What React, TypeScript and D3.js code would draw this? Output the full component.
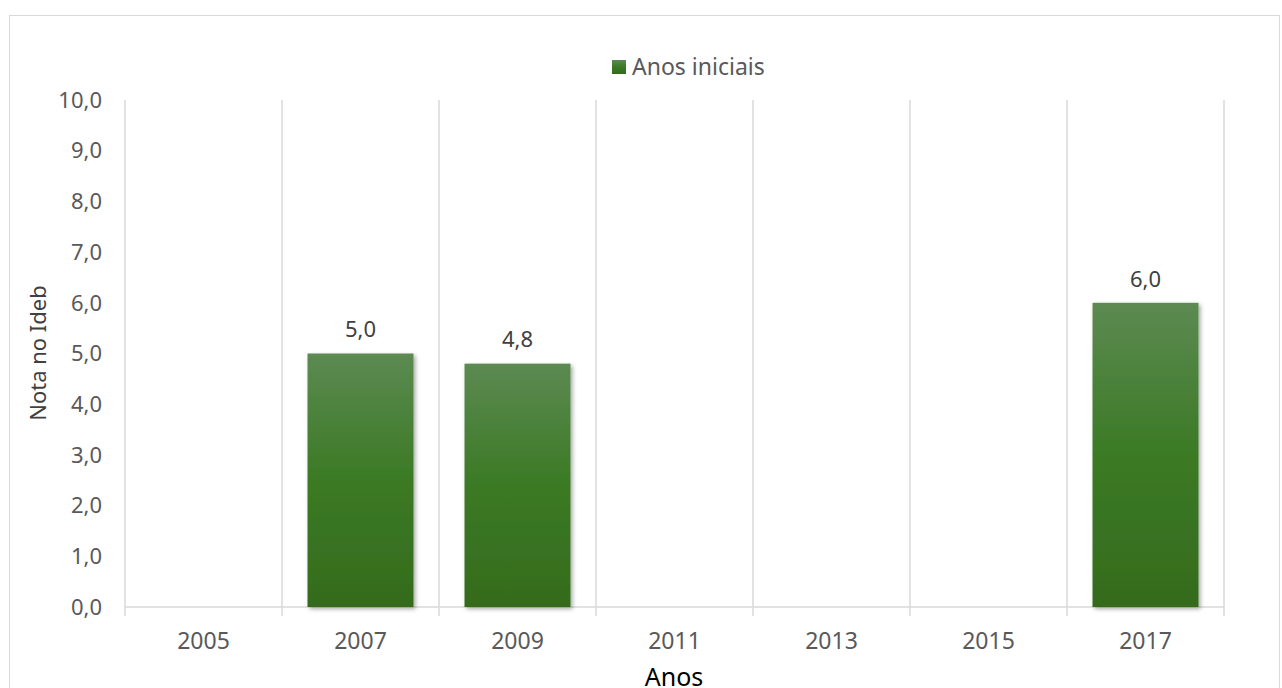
import React from "react";
import * as d3 from "d3";

const categories = ["2005", "2007", "2009", "2011", "2013", "2015", "2017"];
const values: (number | null)[] = [null, 5.0, 4.8, null, null, null, 6.0];
const yTicks = [0, 1, 2, 3, 4, 5, 6, 7, 8, 9, 10];
const seriesName = "Anos iniciais";

const W = 1282;
const H = 688;
const FONT = "'Noto Sans', 'Open Sans', sans-serif";

export default function App() {
  const x = d3.scaleBand<string>().domain(categories).range([125, 1224]).paddingInner(0).paddingOuter(0);
  const y = d3.scaleLinear().domain([0, 10]).range([607, 100]);
  const bw = x.bandwidth();
  const barW = bw * 0.675;
  const fmt = (v: number) => d3.format(".1f")(v).replace(".", ",");
  const bounds = categories.map((c) => x(c)!).concat([x.range()[1]]);

  return (
    <svg width={W} height={H} style={{ position: "absolute", left: 0, top: 0 }}>
      <defs>
        <linearGradient id="g" x1="0" y1="0" x2="0" y2="1">
          <stop offset="0" stopColor="#5c8a52" />
          <stop offset="0.5" stopColor="#3b7a24" />
          <stop offset="1" stopColor="#356b1d" />
        </linearGradient>
        <filter id="sh" x="-10%" y="-10%" width="130%" height="130%">
          <feDropShadow dx="2" dy="2" stdDeviation="2" floodColor="#000" floodOpacity="0.35" />
        </filter>
      </defs>
      <rect x={0} y={0} width={W} height={H} fill="#fff" />
      <rect x={9.5} y={15.5} width={1270} height={700} fill="none" stroke="#d9d9d9" strokeWidth={1} />

      {/* vertical gridlines */}
      {bounds.map((b, i) => (
        <line key={"g" + i} x1={b} x2={b} y1={y(10)} y2={616} stroke="#d9d9d9" strokeWidth={1.5} />
      ))}
      {/* x axis */}
      <line x1={x.range()[0]} x2={x.range()[1]} y1={y(0)} y2={y(0)} stroke="#d9d9d9" strokeWidth={1.5} />

      {/* y tick labels */}
      {yTicks.map((t) => (
        <text key={"y" + t} x={102} y={y(t)} dy="0.35em" textAnchor="end" fontFamily={FONT} fontSize={22} fill="#595959">
          {fmt(t)}
        </text>
      ))}

      {/* x tick labels */}
      {categories.map((c) => (
        <text key={"x" + c} x={x(c)! + bw / 2} y={641} dy="0.35em" textAnchor="middle" fontFamily={FONT} fontSize={23} fill="#595959">
          {c}
        </text>
      ))}

      {/* bars */}
      {categories.map((c, i) => {
        const v = values[i];
        if (v == null) return null;
        const bx = x(c)! + (bw - barW) / 2;
        return (
          <g key={"b" + c}>
            <rect x={bx} y={y(v)} width={barW} height={y(0) - y(v)} fill="url(#g)" filter="url(#sh)" />
            <text x={bx + barW / 2} y={y(v) - 24} dy="0.35em" textAnchor="middle" fontFamily={FONT} fontSize={22} fill="#404040">
              {fmt(v)}
            </text>
          </g>
        );
      })}

      {/* legend */}
      <rect x={612} y={60} width={14} height={14} fill="url(#g)" />
      <text x={632} y={67} dy="0.35em" fontFamily={FONT} fontSize={23} fill="#595959">
        {seriesName}
      </text>

      {/* axis titles */}
      <text x={674} y={677} dy="0.35em" textAnchor="middle" fontFamily={FONT} fontSize={25} fill="#000">
        Anos
      </text>
      <text transform={`translate(38,353) rotate(-90)`} dy="0.35em" textAnchor="middle" fontFamily={FONT} fontSize={22} fill="#404040">
        Nota no Ideb
      </text>
    </svg>
  );
}
